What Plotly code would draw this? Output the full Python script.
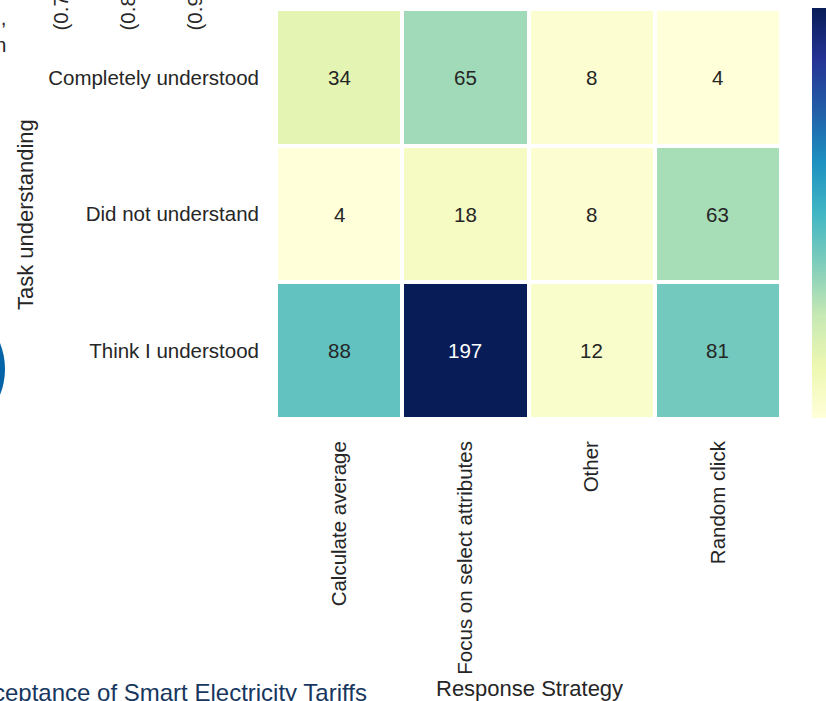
import plotly.graph_objects as go

# response strategy x task understanding counts
strategies = ["Calculate average", "Focus on select attributes", "Other", "Random click"]
understanding = ["Completely understood", "Did not understand", "Think I understood"]
counts = [
    [34, 65, 8, 4],
    [4, 18, 8, 63],
    [88, 197, 12, 81],
]

# partial labels of the neighbouring slide content
side_labels = ["(0.7, 0.8]", "(0.8, 0.9]", "(0.9, 1.0]"]
footer_text = "Acceptance of Smart Electricity Tariffs"

# matplotlib / colorbrewer YlGnBu
ylgnbu = ["#ffffd9", "#edf8b1", "#c7e9b4", "#7fcdbb", "#41b6c4",
          "#1d91c0", "#225ea8", "#253494", "#081d58"]
cscale = [[i / (len(ylgnbu) - 1), c] for i, c in enumerate(ylgnbu)]

W, H = 826, 701
L, R, T, B = 276, 45, 9, 282
PW, PH = W - L - R, H - T - B


def px_x(x):
    return (x - L) / PW


def px_y(y):
    return (H - B - y) / PH


zmin = min(min(r) for r in counts)
zmax = max(max(r) for r in counts)

fig = go.Figure(go.Heatmap(
    z=counts, x=strategies, y=understanding,
    colorscale=cscale, zmin=zmin, zmax=zmax,
    xgap=4, ygap=4,
    hoverinfo="skip",
    colorbar=dict(x=px_x(812), xanchor="left", xpad=0, ypad=0,
                  y=px_y(213), yanchor="middle", len=410, lenmode="pixels",
                  thickness=22, outlinewidth=0, showticklabels=False, ticks=""),
))

txt = "#262626"
ann = []
for i, row in enumerate(counts):
    for j, v in enumerate(row):
        frac = (v - zmin) / (zmax - zmin)
        ann.append(dict(x=strategies[j], y=understanding[i], text=str(v),
                        showarrow=False,
                        font=dict(size=20.5, color="white" if frac > 0.8 else txt)))


def note(x, y, text, size=20.5, color=txt, **kw):
    d = dict(x=px_x(x), y=px_y(y), xref="paper", yref="paper", text=text,
             showarrow=False, xanchor="center", yanchor="middle",
             font=dict(size=size, color=color))
    d.update(kw)
    ann.append(d)


note(25, 215, "Task understanding", size=22, textangle=-90)
note(529, 688, "Response Strategy", size=22)
note(369, 692, footer_text, size=24, color="#17375e", xanchor="right")
for k, s in enumerate(side_labels):
    note(60 + 67 * k, 33, s, textangle=-90, yanchor="bottom")
note(8, 31, ",<br>n", xanchor="right", align="right")

fig.update_layout(
    width=W, height=H,
    margin=dict(l=L, r=R, t=T, b=B, autoexpand=False),
    paper_bgcolor="white", plot_bgcolor="white",
    font=dict(family="Liberation Sans, Arial, sans-serif", color=txt),
    annotations=ann,
    shapes=[dict(type="circle", xref="paper", yref="paper",
                 x0=px_x(-135), x1=px_x(5), y0=px_y(299), y1=px_y(439),
                 fillcolor="#0563a8", line=dict(width=0), layer="above")],
)
fig.update_xaxes(tickangle=-90, tickfont=dict(size=20.5), showgrid=False,
                 zeroline=False, ticklabelstandoff=17, automargin=False)
fig.update_yaxes(autorange="reversed", tickfont=dict(size=20.5), showgrid=False,
                 zeroline=False, ticklabelstandoff=16, automargin=False)

fig.write_html("out.html", config={"displayModeBar": False},
               post_script="document.body.style.margin='0';")
